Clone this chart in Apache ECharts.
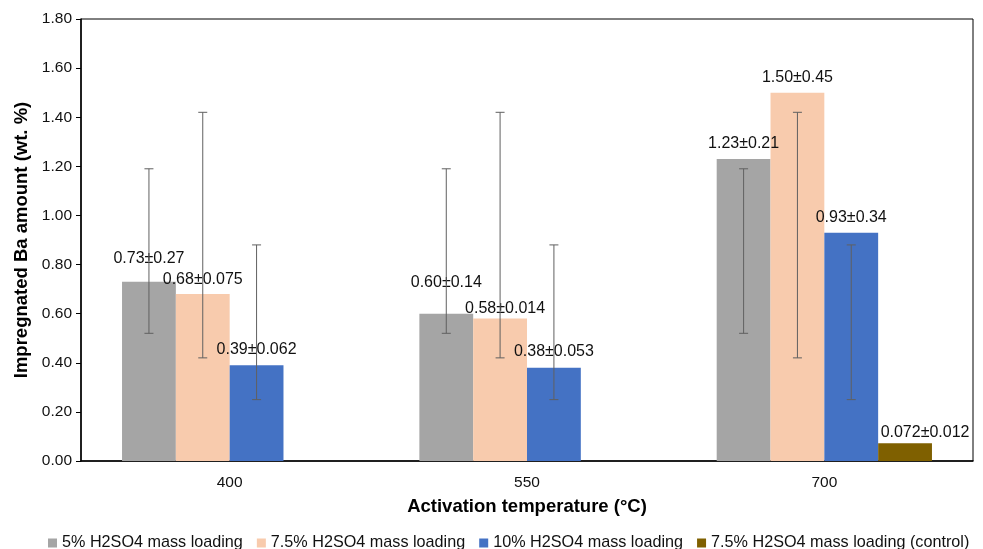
<!DOCTYPE html>
<html><head><meta charset="utf-8">
<script src="https://cdn.jsdelivr.net/npm/echarts@6/dist/echarts.min.js"></script>
<style>html,body{margin:0;padding:0;background:#fff}#c{width:983px;height:549px}</style>
</head><body><div id="c"></div>
<script>
const categories = ['400', '550', '700'];
const seriesNames = ['5% H2SO4 mass loading', '7.5% H2SO4 mass loading', '10% H2SO4 mass loading', '7.5% H2SO4 mass loading (control)'];
const values5 = [0.73, 0.60, 1.23];
const values75 = [0.68, 0.58, 1.50];
const values10 = [0.39, 0.38, 0.93];
const valuesCtrl = [null, null, 0.072];
const labels5 = ['0.73±0.27', '0.60±0.14', '1.23±0.21'];
const labels75 = ['0.68±0.075', '0.58±0.014', '1.50±0.45'];
const labels10 = ['0.39±0.062', '0.38±0.053', '0.93±0.34'];
const labelsCtrl = ['', '', '0.072±0.012'];
// error bar ranges as drawn in the reference (low, high)
const err5Low = [0.52, 0.52, 0.52];
const err5High = [1.19, 1.19, 1.19];
const err75Low = [0.42, 0.42, 0.42];
const err75High = [1.42, 1.42, 1.42];
const err10Low = [0.25, 0.25, 0.25];
const err10High = [0.88, 0.88, 0.88];

// styling (label nudges, colors)
const colors = ['#A5A5A5', '#F8CBAD', '#4472C4', '#7F6000'];
const labelNudge = [
  [[0, -10], [0, -18], [0, -2]],
  [[0, -1], [5, 3], [0, -2]],
  [[0, -3], [0, -3], [0, -2]],
  [[0, 0], [0, 0], [20, 2]]
];
const FONT = 'Liberation Sans, Arial, sans-serif';
const CAT_GAP = 0.276;

const valueSets = [values5, values75, values10, valuesCtrl];
const labelSets = [labels5, labels75, labels10, labelsCtrl];
const errSets = [[err5Low, err5High], [err75Low, err75High], [err10Low, err10High]];

const series = valueSets.map((vals, si) => ({
  name: seriesNames[si],
  type: 'bar',
  barGap: '0%',
  barCategoryGap: (CAT_GAP * 100) + '%',
  itemStyle: { color: colors[si] },
  data: vals.map((v, ci) => ({
    value: v,
    label: {
      show: v != null,
      position: 'top',
      distance: 5,
      offset: labelNudge[si][ci],
      formatter: labelSets[si][ci],
      color: '#111',
      fontSize: 16,
      fontFamily: FONT
    }
  })),
  z: 2
}));

errSets.forEach((e, si) => {
  series.push({
    type: 'custom',
    name: seriesNames[si] + ' err',
    z: 5,
    silent: true,
    encode: { x: 0, y: [1, 2] },
    data: categories.map((c, ci) => [ci, e[0][ci], e[1][ci]]),
    renderItem: function (params, api) {
      const ci = api.value(0);
      const lo = api.coord([ci, api.value(1)]);
      const hi = api.coord([ci, api.value(2)]);
      const band = api.size([1, 0])[0];
      const bw = band * (1 - CAT_GAP) / 4;
      const x = lo[0] + (si - 1.5) * bw;
      const cap = 4.5;
      const st = { stroke: '#606060', lineWidth: 1 };
      return {
        type: 'group',
        children: [
          { type: 'line', shape: { x1: x, y1: lo[1], x2: x, y2: hi[1] }, style: st },
          { type: 'line', shape: { x1: x - cap, y1: lo[1], x2: x + cap, y2: lo[1] }, style: st },
          { type: 'line', shape: { x1: x - cap, y1: hi[1], x2: x + cap, y2: hi[1] }, style: st }
        ]
      };
    }
  });
});

const chart = echarts.init(document.getElementById('c'), null, { renderer: 'canvas' });
chart.setOption({
  animation: false,
  backgroundColor: '#fff',
  textStyle: { fontFamily: FONT },
  grid: { left: 81, right: 10, top: 19, bottom: 88, show: true, borderColor: '#000', borderWidth: 1, containLabel: false },
  legend: {
    data: seriesNames,
    left: 48,
    top: 535,
    width: 935,
    padding: 0,
    icon: 'rect',
    itemWidth: 9,
    itemHeight: 9,
    itemGap: 14,
    itemTextGap: 3,
    textStyle: { fontSize: 16.2, color: '#111', fontFamily: FONT }
  },
  xAxis: {
    type: 'category',
    data: categories,
    name: 'Activation temperature (°C)',
    nameLocation: 'middle',
    nameGap: 36,
    nameTextStyle: { fontSize: 18.5, fontWeight: 'bold', color: '#000', fontFamily: FONT },
    axisLine: { lineStyle: { color: '#000', width: 1.5 } },
    axisTick: { show: false },
    axisLabel: { fontSize: 15.5, color: '#111', margin: 14, fontFamily: FONT }
  },
  yAxis: {
    type: 'value',
    min: 0,
    max: 1.8,
    interval: 0.2,
    name: 'Impregnated Ba amount (wt. %)',
    nameLocation: 'middle',
    nameGap: 48,
    nameTextStyle: { fontSize: 18.5, fontWeight: 'bold', color: '#000', fontFamily: FONT },
    axisLine: { show: true, lineStyle: { color: '#000', width: 1.5 } },
    axisTick: { show: true, length: 5, inside: false, lineStyle: { color: '#000' } },
    splitLine: { show: false },
    axisLabel: { fontSize: 15.5, color: '#111', margin: 9, fontFamily: FONT, formatter: v => v.toFixed(2) }
  },
  series: series
});
</script></body></html>
